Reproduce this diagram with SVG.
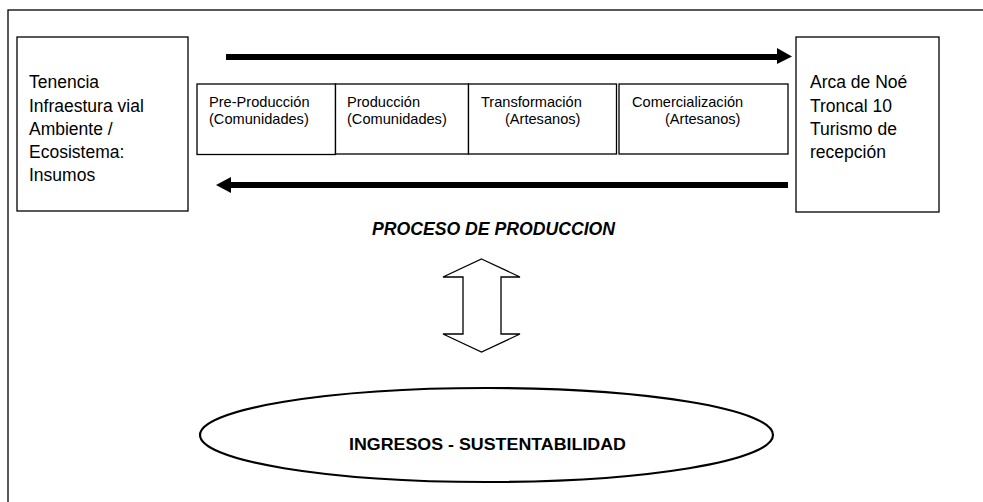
<svg xmlns="http://www.w3.org/2000/svg" width="983" height="502" viewBox="0 0 983 502">
<style>
.box{fill:#fff;stroke:#000;stroke-width:1.3}
.t{font-family:"Liberation Sans",Arial,sans-serif;fill:#000}
.big{font-size:17.5px}
.sm{font-size:14.6px}
.thick{stroke:#000;stroke-width:6;fill:none}
</style>
<rect x="8" y="10" width="990" height="500" fill="#fff" stroke="#000" stroke-width="1.3"/>
<g id="connectors">
  <line class="thick" x1="226" y1="57" x2="778" y2="57"/>
  <polygon points="777,48 792,56.5 777,64" fill="#000"/>
  <line class="thick" x1="230" y1="185" x2="788" y2="185"/>
  <polygon points="231,177 216,185 231,193" fill="#000"/>
  <polygon points="481.5,259 520,277 501,277 501,334 520,334 481.5,352 443,334 463,334 463,277 443,277" fill="#fff" stroke="#000" stroke-width="1.3"/>
</g>
<g id="node-left">
  <rect class="box" x="17" y="37" width="171" height="174"/>
  <text class="t big"><tspan x="29" y="88">Tenencia</tspan><tspan x="29" y="112">Infraestura vial</tspan><tspan x="29" y="135">Ambiente /</tspan><tspan x="29" y="158">Ecosistema:</tspan><tspan x="29" y="181">Insumos</tspan></text>
</g>
<g id="node-right">
  <rect class="box" x="796" y="37" width="143" height="175"/>
  <text class="t big"><tspan x="810" y="88">Arca de Noé</tspan><tspan x="810" y="112">Troncal 10</tspan><tspan x="810" y="135">Turismo de</tspan><tspan x="810" y="158">recepción</tspan></text>
</g>
<g id="node-preproduccion">
  <rect class="box" x="197" y="84" width="138.5" height="70.5"/>
  <text class="t sm"><tspan x="209" y="107">Pre-Producción</tspan><tspan x="209" y="124">(Comunidades)</tspan></text>
</g>
<g id="node-produccion">
  <rect class="box" x="335.5" y="84" width="133" height="70"/>
  <text class="t sm"><tspan x="347" y="107">Producción</tspan><tspan x="347" y="124">(Comunidades)</tspan></text>
</g>
<g id="node-transformacion">
  <rect class="box" x="468.5" y="84" width="148" height="70"/>
  <text class="t sm"><tspan x="481" y="107">Transformación</tspan><tspan x="505" y="124">(Artesanos)</tspan></text>
</g>
<g id="node-comercializacion">
  <rect class="box" x="619" y="84" width="169" height="70"/>
  <text class="t sm"><tspan x="632" y="107">Comercialización</tspan><tspan x="665" y="124">(Artesanos)</tspan></text>
</g>
<g id="label-proceso">
  <text class="t" x="372" y="235" font-size="17.5" font-weight="bold" font-style="italic" textLength="243" lengthAdjust="spacingAndGlyphs">PROCESO DE PRODUCCION</text>
</g>
<g id="node-ingresos">
  <ellipse cx="486.5" cy="435" rx="286.5" ry="47" fill="#fff" stroke="#000" stroke-width="2.2"/>
  <text class="t" x="349" y="450" font-size="16.5" font-weight="bold" textLength="277" lengthAdjust="spacingAndGlyphs">INGRESOS - SUSTENTABILIDAD</text>
</g>
</svg>
